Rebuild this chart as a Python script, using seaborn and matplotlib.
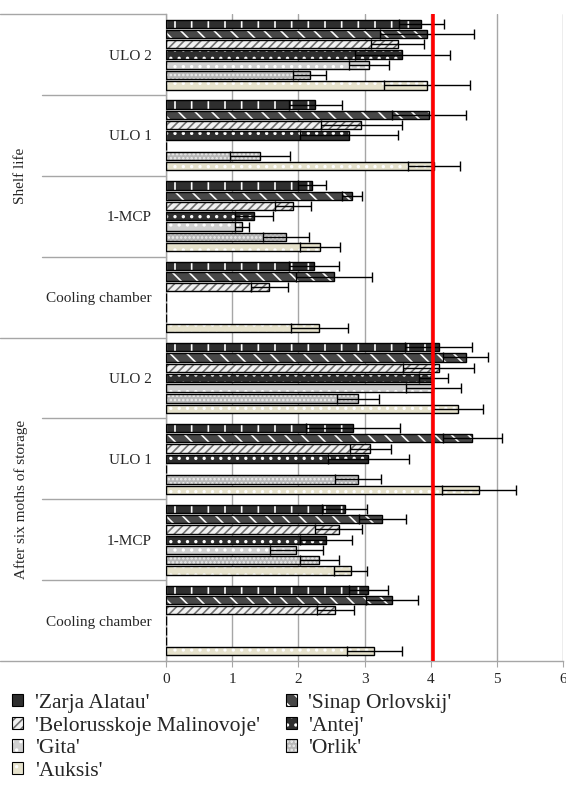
import numpy as np
import pandas as pd
import matplotlib
matplotlib.use("Agg")
import matplotlib.pyplot as plt
import seaborn as sns
from matplotlib.patches import Patch, Rectangle
import matplotlib.transforms as mtransforms

# --- data ---
periods = ["Shelf life", "After six moths of storage"]
treatments = ["ULO 2", "ULO 1", "1-MCP", "Cooling chamber"]
varieties = ["'Zarja Alatau'", "'Sinap Orlovskij'", "'Belorusskoje Malinovoje'",
             "'Antej'", "'Gita'", "'Orlik'", "'Auksis'"]

# 8 values per variety: shelf life ULO2, ULO1, 1-MCP, cooling; after storage ULO2, ULO1, 1-MCP, cooling
zarja = [3.86, 2.26, 2.21, 2.24, 4.12, 2.83, 2.70, 3.06]
sinap = [3.95, 3.98, 2.81, 2.54, 4.53, 4.63, 3.27, 3.42]
belor = [3.50, 2.95, 1.92, 1.56, 4.12, 3.09, 2.61, 2.56]
antej = [3.57, 2.76, 1.33, 0.00, 4.04, 3.06, 2.42, 0.00]
gita = [3.07, 0.00, 1.15, 0.00, 4.04, 0.00, 1.97, 0.00]
orlik = [2.17, 1.42, 1.81, 0.00, 2.90, 2.90, 2.32, 0.00]
auksis = [3.94, 4.05, 2.33, 2.32, 4.41, 4.73, 2.79, 3.15]

zarja_err = [0.34, 0.40, 0.21, 0.38, 0.51, 0.71, 0.34, 0.30]
sinap_err = [0.71, 0.56, 0.15, 0.58, 0.34, 0.45, 0.36, 0.39]
belor_err = [0.40, 0.61, 0.27, 0.28, 0.54, 0.31, 0.35, 0.28]
antej_err = [0.72, 0.74, 0.29, 0.00, 0.22, 0.61, 0.39, 0.00]
gita_err = [0.30, 0.00, 0.11, 0.00, 0.42, 0.00, 0.40, 0.00]
orlik_err = [0.25, 0.45, 0.35, 0.00, 0.32, 0.35, 0.30, 0.00]
auksis_err = [0.65, 0.39, 0.30, 0.43, 0.38, 0.56, 0.25, 0.42]

threshold = 4.03

values = [zarja, sinap, belor, antej, gita, orlik, auksis]
errors = [zarja_err, sinap_err, belor_err, antej_err, gita_err, orlik_err, auksis_err]

# --- styles: (face colour, hatch, hatch colour) ---
styles = [
    ("#2e2e2e", "|", "white"),
    ("#474747", "\\\\", "white"),
    ("#f2f2f2", "////", "#707070"),
    ("#2e2e2e", "..", "white"),
    ("#d0d0d0", "..", "white"),
    ("#b8b8b8", "....", "#eeeeee"),
    ("#e6e2cc", "..", "white"),
]

groups = [f"{p}|{t}" for p in periods for t in treatments]
rows = []
for v, vals, errs in zip(varieties, values, errors):
    for g, val, e in zip(groups, vals, errs):
        rows.append({"group": g, "variety": v, "value": val, "err": e})
df = pd.DataFrame(rows)

sns.set_style("white")
plt.rcParams["font.family"] = ["Liberation Serif", "DejaVu Serif"]
plt.rcParams["hatch.linewidth"] = 1.2

fig = plt.figure(figsize=(5.66, 7.85), dpi=100)
ax = fig.add_axes([0.293, 0.158, 0.702, 0.824])

sns.barplot(data=df, y="group", x="value", hue="variety", order=groups,
            hue_order=varieties, orient="h", dodge=True, width=0.89, gap=0.2,
            legend=False, ax=ax, errorbar=None)

for cont, (fc, hatch, hc), errs in zip(ax.containers, styles, errors):
    centers, vals, es = [], [], []
    for p, e in zip(cont.patches, errs):
        p.set_facecolor(fc)
        p.set_hatch(hatch)
        p.set_edgecolor(hc)
        p.set_linewidth(0)
        ax.add_patch(Rectangle(p.get_xy(), p.get_width(), p.get_height(),
                               fill=False, edgecolor="black", linewidth=1.0, zorder=3))
        if e > 0:
            centers.append(p.get_y() + p.get_height() / 2)
            vals.append(p.get_width())
            es.append(e)
    ax.errorbar(vals, centers, xerr=es, fmt="none", ecolor="black",
                elinewidth=1.0, capsize=3.5, capthick=1.0, zorder=4)

ax.axvline(threshold, color="#ff0000", lw=2.6, zorder=5)

ax.set_xlim(0, 6)
ax.set_ylim(7.5, -0.5)
ax.set_xticks(range(0, 7))
ax.xaxis.grid(True, color="#a6a6a6", lw=1)
ax.set_axisbelow(True)
ax.set_xlabel("")
ax.set_ylabel("")
ax.set_yticks(range(len(groups)))
ax.set_yticklabels([g.split("|")[1] for g in groups], fontsize=11)
ax.tick_params(axis="y", length=0, pad=10)
ax.tick_params(axis="x", length=4, direction="out", color="#a6a6a6",
               labelsize=11, pad=5, bottom=True)
for side in ["top", "right"]:
    ax.spines[side].set_visible(False)
for side in ["left", "bottom"]:
    ax.spines[side].set_color("#a6a6a6")
    ax.spines[side].set_linewidth(1)

# category separators on the left
trans = mtransforms.blended_transform_factory(ax.transAxes, ax.transData)
for k in range(1, len(groups)):
    if k == len(treatments):
        continue
    ax.plot([-0.312, 0], [k - 0.5, k - 0.5], color="#a6a6a6", lw=1,
            transform=trans, clip_on=False)
for y in [-0.5, len(treatments) - 0.5, len(groups) - 0.5]:
    ax.plot([-0.418, 0], [y, y], color="#a6a6a6", lw=1,
            transform=trans, clip_on=False)
for i, p in enumerate(periods):
    mid = i * len(treatments) + (len(treatments) - 1) / 2
    ax.text(-0.365, mid, p, rotation=90, ha="center", va="center",
            fontsize=11, transform=trans)

# legend
handles = []
for fc, hatch, hc in styles:
    base = Patch(facecolor=fc, hatch=hatch, edgecolor=hc, linewidth=0)
    outline = Patch(facecolor="none", edgecolor="black", linewidth=0.8)
    handles.append((base, outline))
order = [0, 2, 4, 6, 1, 3, 5]
fig.legend([handles[i] for i in order], [varieties[i] for i in order],
           loc="upper left", bbox_to_anchor=(0.022, 0.116), ncol=2,
           frameon=False, fontsize=15.5, handlelength=0.5, handleheight=0.5,
           handletextpad=0.55, columnspacing=1.2, labelspacing=0.17,
           borderpad=0, borderaxespad=0)

fig.savefig("out.png", dpi=100)
